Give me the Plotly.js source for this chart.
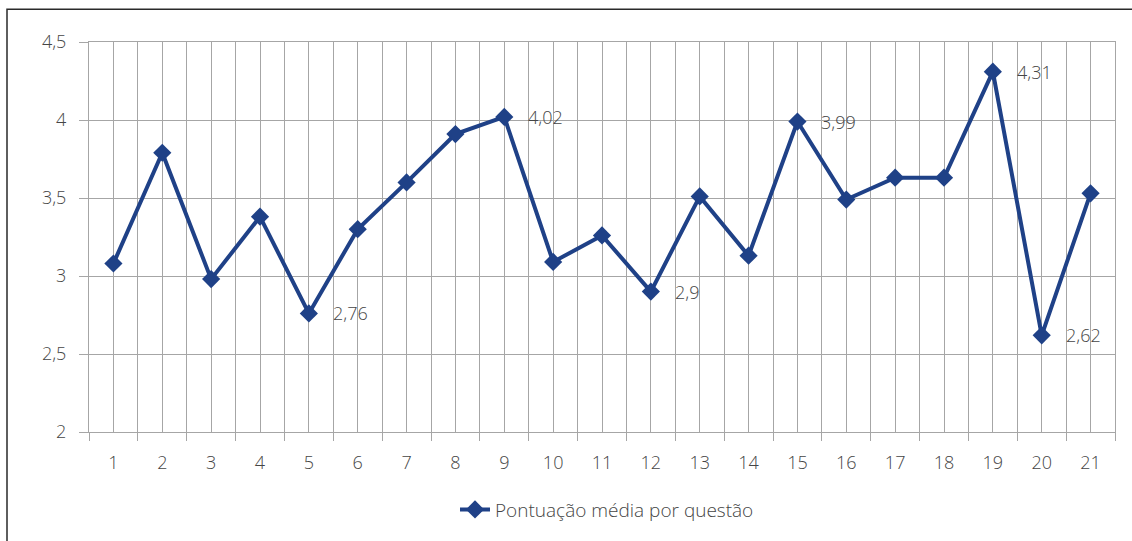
<!DOCTYPE html>
<html>
<head>
<meta charset="utf-8">
<script src="https://cdn.plot.ly/plotly-3.0.1.min.js"></script>
<style>html,body{margin:0;padding:0;background:#fff;}#chart{width:1132px;height:541px;}</style>
</head>
<body>
<div id="chart"></div>
<script>
var categories = ["1","2","3","4","5","6","7","8","9","10","11","12","13","14","15","16","17","18","19","20","21"];
var scores = [3.08, 3.79, 2.98, 3.38, 2.76, 3.30, 3.60, 3.91, 4.02, 3.09, 3.26, 2.90, 3.51, 3.13, 3.99, 3.49, 3.63, 3.63, 4.31, 2.62, 3.53];
var labelledQuestions = [5, 9, 12, 15, 19, 20];
var labelTexts = ["2,76", "4,02", "2,9", "3,99", "4,31", "2,62"];
var seriesName = "Pontuação média por questão";
var yTicks = [2, 2.5, 3, 3.5, 4, 4.5];

var xPos = categories.map(function(c, i){ return i + 1; });
var boundaries = [];
for (var b = 0; b <= categories.length; b++) boundaries.push(b + 0.5);

var blue = "#1f4187";
var grid = "#a6a6a6";
var txt = "#454545";
var fontFam = "Open Sans, Noto Sans, sans-serif";
var fs = 18;

var trace = {
  type: "scatter", mode: "lines+markers",
  x: xPos, y: scores, name: seriesName,
  line: {color: blue, width: 4},
  marker: {symbol: "diamond", size: 14, color: blue},
  hoverinfo: "x+y"
};

var annotations = labelledQuestions.map(function(q, i){
  return {x: q, y: scores[q - 1], xref: "x", yref: "y", text: labelTexts[i],
    showarrow: false, xanchor: "left", yanchor: "middle", xshift: 22,
    font: {family: fontFam, size: fs, color: txt, weight: 300}};
});

var W = 1132, H = 541, L = 89, R = 17, T = 42, B = 107;
var pw = W - L - R, ph = H - T - B;
function px(x){ return (x - L) / pw; }
function py(y){ return (H - B - y) / ph; }

var layout = {
  width: W, height: H,
  margin: {l: L, r: R, t: T, b: B, pad: 0},
  paper_bgcolor: "#fff", plot_bgcolor: "#fff",
  separators: ",.",
  font: {family: fontFam, size: fs, color: txt, weight: 300},
  showlegend: true,
  legend: {orientation: "h", x: px(455), xanchor: "left", y: py(512), yanchor: "middle",
    font: {family: fontFam, size: 19, color: txt, weight: 300}},
  xaxis: {
    range: [0.5, categories.length + 0.5],
    tickmode: "array", tickvals: xPos, ticktext: categories,
    ticks: "", showgrid: true, gridcolor: grid, gridwidth: 1,
    showline: true, linecolor: grid, linewidth: 1, mirror: true,
    zeroline: false, ticklabelstandoff: 14, fixedrange: true,
    tickfont: {family: fontFam, size: fs, color: txt, weight: 300},
    minor: {tickmode: "array", tickvals: boundaries, ticks: "outside", ticklen: 8,
      tickcolor: grid, tickwidth: 1, showgrid: true, gridcolor: grid, gridwidth: 1}
  },
  yaxis: {
    range: [2, 4.5], tickmode: "array", tickvals: yTicks,
    ticks: "outside", ticklen: 9, tickcolor: grid, tickwidth: 1,
    showgrid: true, gridcolor: grid, gridwidth: 1,
    showline: true, linecolor: grid, linewidth: 1, mirror: true,
    zeroline: false, ticklabelstandoff: 9, fixedrange: true,
    tickfont: {family: fontFam, size: fs, color: txt, weight: 300}
  },
  annotations: annotations,
  shapes: [{type: "rect", xref: "paper", yref: "paper",
    x0: px(7), x1: px(W + 10), y0: py(H + 10), y1: py(9),
    line: {color: "#2a2a2a", width: 1.5}, fillcolor: "rgba(0,0,0,0)", layer: "above"}]
};

Plotly.newPlot("chart", [trace], layout, {displayModeBar: false});
</script>
</body>
</html>
